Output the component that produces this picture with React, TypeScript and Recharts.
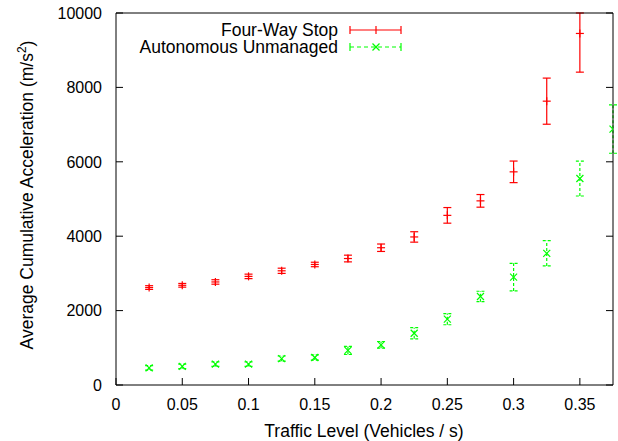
import React from "react";
import { ScatterChart, Scatter, XAxis, YAxis, ErrorBar, Customized } from "recharts";

// traffic level (vehicles / s)
const trafficLevels = [
  0.025, 0.05, 0.075, 0.1, 0.125, 0.15, 0.175, 0.2, 0.225, 0.25, 0.275, 0.3, 0.325, 0.35, 0.375,
];
const fourWayStop = [2620, 2680, 2770, 2920, 3070, 3240, 3400, 3690, 3980, 4560, 4950, 5730, 7630, 9450];
// last bar runs off the top of the plot, so its upper half is cut at 10000
const fourWayStopErr: (number | number[])[] = [
  50, 50, 60, 60, 70, 60, 90, 100, 140, 210, 170, 290, 620, [1040, 550],
];
const autonomous = [460, 500, 560, 560, 710, 740, 930, 1080, 1390, 1770, 2380, 2900, 3540, 5550, 6880];
const autonomousErr = [60, 60, 60, 60, 70, 70, 110, 90, 150, 150, 140, 370, 340, 470, 650];

const xTicks = [0, 0.05, 0.1, 0.15, 0.2, 0.25, 0.3, 0.35];
const yTicks = [0, 2000, 4000, 6000, 8000, 10000];

const RED = "#ff0000";
const GREEN = "#00ff00";
const FONT = '"Liberation Sans", Arial, Helvetica, sans-serif';
const TICK = 7;

const fourWayData = fourWayStop.map((y, i) => ({ x: trafficLevels[i], y, err: fourWayStopErr[i] }));
const autoData = autonomous.map((y, i) => ({ x: trafficLevels[i], y, err: autonomousErr[i] }));

const BottomTick = ({ x, y, payload }: any) => (
  <g>
    <line x1={x} y1={y} x2={x} y2={y - TICK} stroke="#000" />
    <text x={x} y={y + 25} textAnchor="middle" fontSize={16} fontFamily={FONT} fill="#000">
      {payload.value}
    </text>
  </g>
);

const TopTick = ({ x, y }: any) => <line x1={x} y1={y} x2={x} y2={y + TICK} stroke="#000" />;

const LeftTick = ({ x, y, payload }: any) => (
  <g>
    <line x1={x} y1={y} x2={x + TICK} y2={y} stroke="#000" />
    <text x={x - 14} y={y} dy="0.36em" textAnchor="end" fontSize={16} fontFamily={FONT} fill="#000">
      {payload.value}
    </text>
  </g>
);

const RightTick = ({ x, y }: any) => <line x1={x} y1={y} x2={x - TICK} y2={y} stroke="#000" />;

const Plus = ({ cx, cy }: any) => (
  <g stroke={RED} strokeWidth={1.2}>
    <line x1={cx - 4} y1={cy} x2={cx + 4} y2={cy} />
    <line x1={cx} y1={cy - 4} x2={cx} y2={cy + 4} />
  </g>
);

const Cross = ({ cx, cy }: any) => (
  <g stroke={GREEN} strokeWidth={1.2}>
    <line x1={cx - 3.5} y1={cy - 3.5} x2={cx + 3.5} y2={cy + 3.5} />
    <line x1={cx - 3.5} y1={cy + 3.5} x2={cx + 3.5} y2={cy - 3.5} />
  </g>
);

const Decor = () => (
  <g fontFamily={FONT} fill="#000">
    {/* legend */}
    <text x={338} y={36} textAnchor="end" fontSize={17.5}>Four-Way Stop</text>
    <g stroke={RED} strokeWidth={1.2}>
      <line x1={350} y1={30} x2={401} y2={30} />
      <line x1={350} y1={26} x2={350} y2={34} />
      <line x1={401} y1={26} x2={401} y2={34} />
      <line x1={376} y1={26} x2={376} y2={34} />
    </g>
    <text x={338} y={53} textAnchor="end" fontSize={17.5}>Autonomous Unmanaged</text>
    <g stroke={GREEN} strokeWidth={1.2}>
      <line x1={350} y1={47} x2={401} y2={47} strokeDasharray="4 3" />
      <line x1={350} y1={43} x2={350} y2={51} />
      <line x1={401} y1={43} x2={401} y2={51} />
      <line x1={372.5} y1={43.5} x2={379.5} y2={50.5} />
      <line x1={372.5} y1={50.5} x2={379.5} y2={43.5} />
    </g>
    {/* axis titles */}
    <text x={364} y={437} textAnchor="middle" fontSize={17.5}>Traffic Level (Vehicles / s)</text>
    <text transform="translate(27,195) rotate(-90)" textAnchor="middle" dy="0.36em" fontSize={17.5}>
      Average Cumulative Acceleration (m/s<tspan baselineShift="super" fontSize={12}>2</tspan>)
    </text>
  </g>
);

export default function App() {
  return (
    <div style={{ position: "absolute", left: 0, top: 0, width: 618, height: 441, background: "#fff" }}>
      <ScatterChart width={618} height={441} margin={{ top: 12, right: 4, bottom: 0, left: 0 }}>
        <XAxis
          dataKey="x"
          type="number"
          domain={[0, 0.375]}
          ticks={xTicks}
          interval={0}
          allowDataOverflow
          height={56}
          tickSize={0}
          tickMargin={0}
          tickLine={false}
          axisLine={{ stroke: "#000" }}
          tick={<BottomTick />}
        />
        <XAxis
          xAxisId="top"
          orientation="top"
          type="number"
          domain={[0, 0.375]}
          ticks={xTicks}
          interval={0}
          allowDataOverflow
          height={1}
          tickSize={0}
          tickMargin={0}
          tickLine={false}
          axisLine={{ stroke: "#000" }}
          tick={<TopTick />}
        />
        <YAxis
          dataKey="y"
          type="number"
          domain={[0, 10000]}
          ticks={yTicks}
          interval={0}
          allowDataOverflow
          width={116}
          tickSize={0}
          tickMargin={0}
          tickLine={false}
          axisLine={{ stroke: "#000" }}
          tick={<LeftTick />}
        />
        <YAxis
          yAxisId="right"
          orientation="right"
          type="number"
          domain={[0, 10000]}
          ticks={yTicks}
          interval={0}
          allowDataOverflow
          width={1}
          tickSize={0}
          tickMargin={0}
          tickLine={false}
          axisLine={{ stroke: "#000" }}
          tick={<RightTick />}
        />
        <Scatter name="Four-Way Stop" data={fourWayData} shape={<Plus />} isAnimationActive={false}>
          <ErrorBar dataKey="err" direction="y" width={4} stroke={RED} strokeWidth={1.2} isAnimationActive={false} />
        </Scatter>
        <Scatter name="Autonomous Unmanaged" data={autoData} shape={<Cross />} isAnimationActive={false}>
          <ErrorBar
            dataKey="err"
            direction="y"
            width={4}
            stroke={GREEN}
            strokeWidth={1.2}
            strokeDasharray="3 2"
            isAnimationActive={false}
          />
        </Scatter>
        <Customized component={Decor} />
      </ScatterChart>
    </div>
  );
}
